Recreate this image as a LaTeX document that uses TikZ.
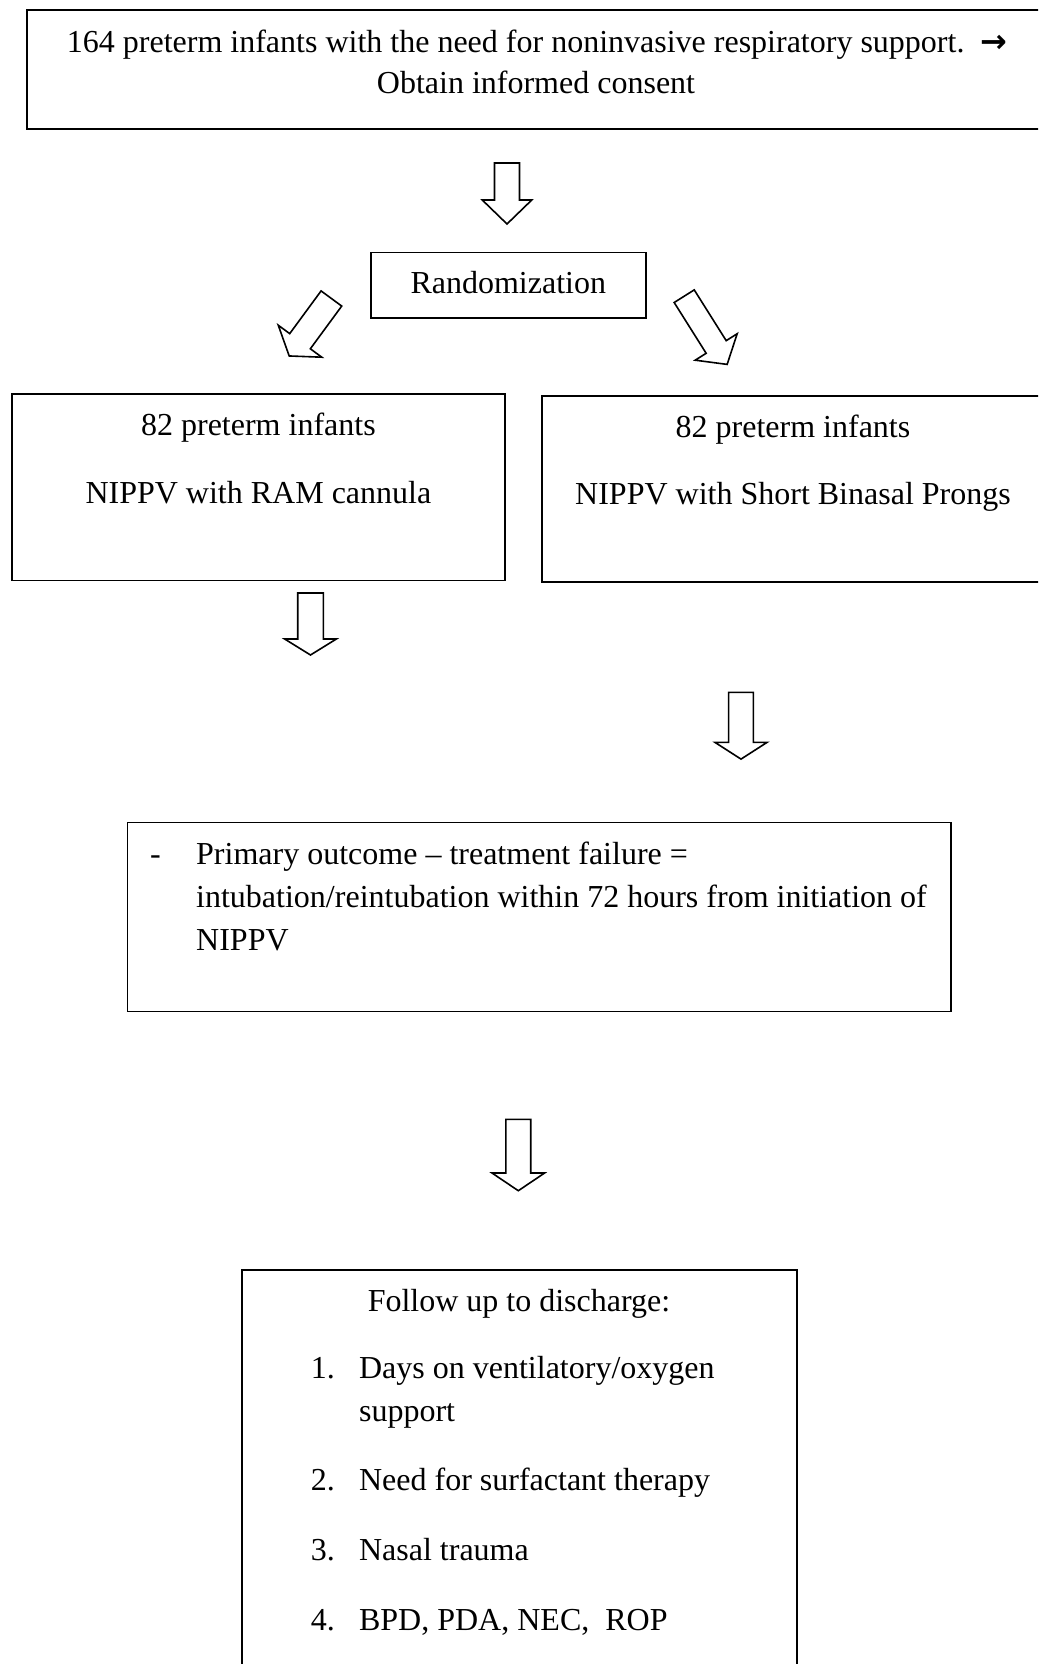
\documentclass[tikz,border=0pt]{standalone}
\usepackage{fontspec}
\setmainfont{Liberation Serif}
\newfontfamily\arrowfont{DejaVu Sans}
\newcommand\blockarrow[7]{%
  \draw[barrowline, shift={(#1,#2)}, rotate=#3]
    (-#4/2,0) -- (#4/2,0) -- (#4/2,#5) -- (#6/2,#5) -- (0,#5+#7)
    -- (-#6/2,#5) -- (-#4/2,#5) -- cycle;}
\begin{document}
\begin{tikzpicture}[x=1pt,y=-1pt,
  box/.style={draw, line width=1.8pt, inner sep=0pt, outer sep=0pt},
  txt/.style={inner sep=0pt, font=\fontsize{32}{40}\selectfont},
  barrowline/.style={line width=1.6pt, line join=miter}]
\useasboundingbox (0,0) rectangle (1038,1664);
\clip (0,0) rectangle (1038,1664);
\fill[white] (0,0) rectangle (1038,1664);

% boxes
\node[box, minimum width=1019.3pt, minimum height=119.3pt] (top) at (536.35,69.65) {};
\node[box, minimum width=275pt, minimum height=65.5pt] (rand) at (508.5,285.25) {};
\node[box, minimum width=493.2pt, minimum height=186.5pt] (left) at (258.4,487.25) {};
\node[box, minimum width=504pt, minimum height=185.7pt] (right) at (794,488.85) {};
\node[box, minimum width=823.6pt, minimum height=188.9pt] (outc) at (539.2,916.95) {};
\node[box, minimum width=554.7pt, minimum height=430pt] (foll) at (519.35,1485) {};

% texts
\node[txt, anchor=base west] (t1) at (66.7,53) {164 preterm infants with the need for noninvasive respiratory support.\ \ {\arrowfont\bfseries →}};
\node[txt, anchor=base] (t2) at (536,93.5) {Obtain informed consent};
\node[txt, anchor=base] (rt) at (508.3,293.3) {Randomization};
\node[txt, anchor=base] (l1) at (258.4,435) {82 preterm infants};
\node[txt, anchor=base] (l2) at (258.4,503) {NIPPV with RAM cannula};
\node[txt, anchor=base] (r1) at (793,437) {82 preterm infants};
\node[txt, anchor=base] (r2) at (793,504) {NIPPV with Short Binasal Prongs};
\node[txt, anchor=base west] (od) at (150,864) {-};
\node[txt, anchor=base west] (o1) at (196,864) {Primary outcome – treatment failure =};
\node[txt, anchor=base west] (o2) at (196,907) {intubation/reintubation within 72 hours from initiation of};
\node[txt, anchor=base west] (o3) at (196,950) {NIPPV};
\node[txt, anchor=base] (f0) at (519,1311) {Follow up to discharge:};
\node[txt, anchor=base west] (n1) at (310.7,1378) {1.};
\node[txt, anchor=base west] (i1a) at (358.9,1378) {Days on ventilatory/oxygen};
\node[txt, anchor=base west] (i1b) at (358.9,1421) {support};
\node[txt, anchor=base west] (n2) at (310.7,1490) {2.};
\node[txt, anchor=base west] (i2) at (358.9,1490) {Need for surfactant therapy};
\node[txt, anchor=base west] (n3) at (310.7,1560) {3.};
\node[txt, anchor=base west] (i3) at (358.9,1560) {Nasal trauma};
\node[txt, anchor=base west] (n4) at (310.7,1630) {4.};
\node[txt, anchor=base west] (i4) at (358.9,1630) {BPD, PDA, NEC,\ \ ROP};

% block arrows
\blockarrow{507}{163}{0}{25}{37}{49.5}{24}
\blockarrow{331.4}{298.5}{-36.3}{25.6}{53}{54}{18.3}
\blockarrow{684.2}{296.2}{32.2}{23.7}{60}{49.6}{20.6}
\blockarrow{310.5}{593}{0}{25.6}{46}{51.7}{16}
\blockarrow{741}{692.4}{0}{24.7}{50}{52}{16.7}
\blockarrow{518.3}{1119.3}{0}{24.8}{53.7}{52.6}{17.7}
\end{tikzpicture}
\end{document}
